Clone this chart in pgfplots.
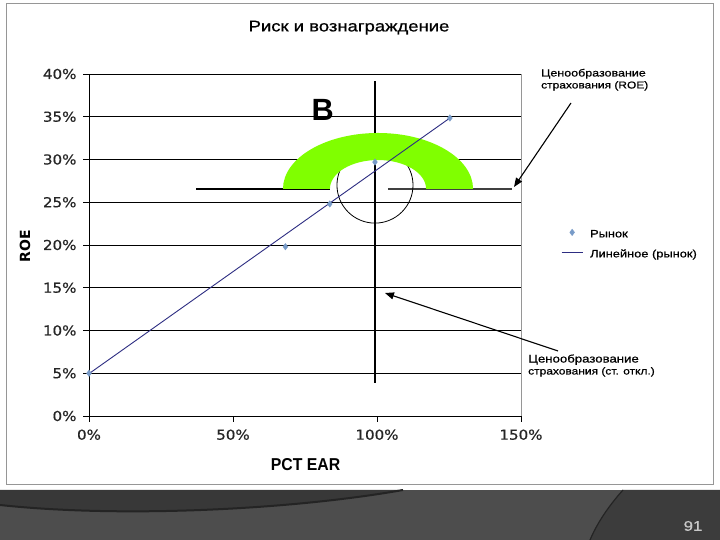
\documentclass[border=0pt]{standalone}
\usepackage{fontspec}
\setmainfont[FakeStretch=1.2, FakeBold=0.7]{Liberation Sans}
\newfontfamily\tickfont[FakeStretch=1.1, FakeBold=0.5]{DejaVu Sans}
\newfontfamily\labfont{DejaVu Sans}
\newfontfamily\narrowbold[FakeStretch=0.92]{Liberation Sans}
\newfontfamily\plainsans{Liberation Sans}
\usepackage{pgfplots}
\pgfplotsset{compat=1.18}
\usetikzlibrary{arrows.meta}

\definecolor{mkblue}{RGB}{120,155,200}
\definecolor{trend}{RGB}{45,45,130}
\definecolor{lime}{RGB}{128,255,0}
\definecolor{foot}{RGB}{77,77,77}
\definecolor{footdark}{RGB}{56,56,56}
\definecolor{footline}{RGB}{36,36,36}
\definecolor{footright}{RGB}{60,60,60}
\definecolor{framegray}{RGB}{150,150,150}
\definecolor{pagenum}{RGB}{200,200,200}

\pgfplotsset{
  rynok legend/.style={legend image code/.code={\draw[##1, mark repeat=2, mark phase=2]
      plot coordinates {(0bp,2bp) (10.5bp,2bp) (21bp,2bp)};}},
  trend legend/.style={legend image code/.code={\draw[##1] (0bp,2bp) -- (21bp,2bp);}},
}

\begin{document}
\begin{tikzpicture}[x=1bp,y=1bp]
% slide background, frame and footer
\path[use as bounding box] (0,0) rectangle (720,540);
\fill[white] (0,0) rectangle (720,540);
\draw[framegray, line width=1bp] (6,55) rectangle (713,536);
\fill[foot] (0,0) rectangle (720,50);
\fill[footdark] (0,50) -- (0,35) .. controls (120,22) and (290,30) .. (403,50) -- cycle;
\draw[footline, line width=2bp] (0,35) .. controls (120,22) and (290,30) .. (403,50);
\fill[footright] (623,50) .. controls (605,30) and (595,12) .. (590,0) -- (720,0) -- (720,50) -- cycle;
\draw[footline, line width=1.2bp] (623,50) .. controls (605,30) and (595,12) .. (590,0);
\node[text=pagenum] at (693,14) {\fontsize{14bp}{16bp}\selectfont 91};

\begin{axis}[
    at={(89bp,124bp)}, anchor=south west,
    scale only axis, width=432bp, height=342bp,
    xmin=0, xmax=150, ymin=0, ymax=40,
    axis x line*=bottom, axis y line*=left,
    axis line style={black, line width=0.9bp},
    xtick={0,50,100,150}, xticklabels={0\%,50\%,100\%,150\%},
    ytick={0,5,...,40},
    yticklabels={0\%,5\%,10\%,15\%,20\%,25\%,30\%,35\%,40\%},
    tick align=outside, major tick length=6bp,
    tick style={black, line width=0.9bp},
    ymajorgrids, grid style={black, line width=0.9bp},
    tick label style={font=\tickfont\fontsize{13.7bp}{15bp}\selectfont, text=black!85},
    xticklabel style={yshift=-4bp},
    yticklabel style={xshift=-3bp},
    clip=false,
    legend cell align=left,
    legend style={at={(1.0926,0.5468)}, anchor=north west,
      draw=none, fill=none, inner sep=0pt,
      font=\fontsize{10.7bp}{12bp}\selectfont,
      nodes={inner sep=0pt, text height=8bp, text depth=2bp},
      row sep=10bp,
      /tikz/every odd column/.append style={column sep=7bp}},
  ]
  % annotation shapes drawn under the data
  \draw[framegray, line width=1bp] (axis cs:150,0) -- (axis cs:150,40);
  \draw[black, line width=1.4bp] (axis cs:99.3,3.86) -- (axis cs:99.3,39.2);
  \draw[black, line width=1.4bp] (axis cs:37.2,26.55) -- (axis cs:83.7,26.55);
  \draw[black!75, line width=1.4bp] (axis cs:103.8,26.55) -- (axis cs:146.9,26.55);
  \draw[black, line width=0.8bp] (axis cs:99.3,27.0) ellipse [x radius=13.2, y radius=4.44];
  \fill[lime] (axis cs:67.35,26.55)
      arc[start angle=180, end angle=0, x radius=33, y radius=6.55]
      -- (axis cs:117.05,26.55)
      arc[start angle=0, end angle=180, x radius=16.7, y radius=3.39]
      -- cycle;

  \addplot[only marks, mark=diamond*, mark size=3.2bp, color=mkblue, rynok legend]
    coordinates {(0,5.0) (68.2,19.8) (83.6,24.8) (99.3,29.7) (125.3,34.85)};
  \addlegendentry{Рынок}
  \addplot[trend, line width=0.9bp, no marks, trend legend]
    coordinates {(0,4.95) (125.3,34.85)};
  \addlegendentry{Линейное (рынок)}
\end{axis}

% titles, labels and callouts
\node at (349,512.3) {\fontsize{15.4bp}{17bp}\selectfont Риск и вознаграждение};
\node[rotate=90] at (25,294) {\labfont\bfseries\fontsize{14bp}{16bp}\selectfont ROE};
\node at (305.5,75) {\narrowbold\bfseries\fontsize{17.2bp}{19bp}\selectfont PCT EAR};
\node at (322.8,430) {\plainsans\bfseries\fontsize{30.7bp}{32bp}\selectfont B};
\node[anchor=west, align=left, inner sep=0pt] at (541,460.3)
  {\fontsize{10.4bp}{14.5bp}\selectfont Ценообразование\\страхования (ROE)};
\node[anchor=west, align=left, inner sep=0pt] at (528,174.5)
  {\fontsize{11bp}{20bp}\selectfont Ценообразование\\страхования (ст. откл.)};
\draw[-{Triangle[length=9bp,width=7bp]}, line width=1.1bp] (571,437) -- (514,353);
\draw[-{Triangle[length=9bp,width=7bp]}, line width=1.1bp] (558,189) -- (385,247);
\end{tikzpicture}
\end{document}
